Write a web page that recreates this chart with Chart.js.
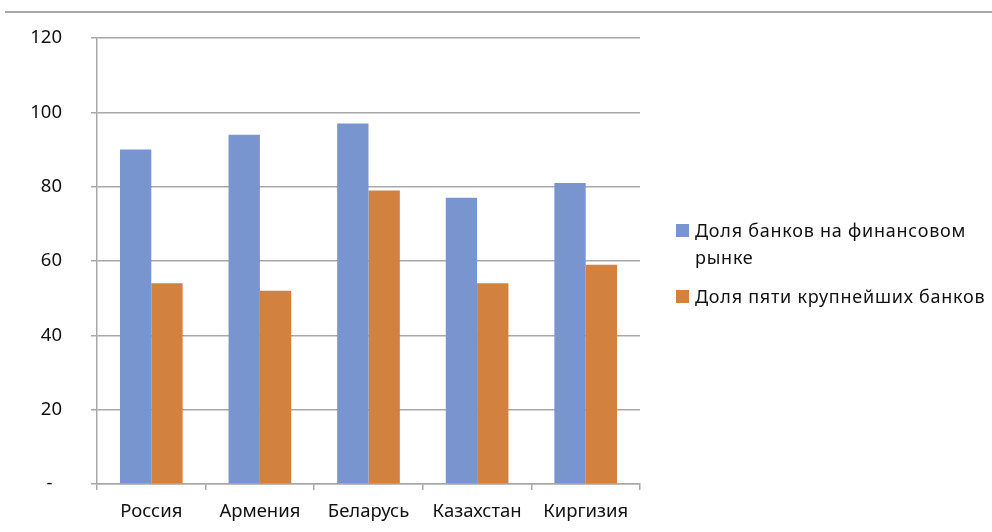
<!DOCTYPE html>
<html><head><meta charset="utf-8">
<script src="https://cdn.jsdelivr.net/npm/chart.js@4"></script>
<style>
html,body{margin:0;padding:0;background:#fff;}
#wrap{position:relative;width:992px;height:532px;}
#topline{position:absolute;left:5px;right:0;top:11px;height:0;border-top:2px solid #a8a8a8;}
#legend{position:absolute;left:676px;top:217px;font-family:"Noto Sans",sans-serif;font-size:18px;letter-spacing:0.75px;color:#111;line-height:27px;}
.item{display:flex;align-items:flex-start;margin-bottom:12px;}
.sw{width:13px;height:13px;margin-top:7px;margin-right:6px;flex:none;}
</style></head>
<body><div id="wrap"><div id="topline"></div><canvas id="c" width="992" height="532"></canvas><div id="legend"></div></div>
<script>
const categories = ["Россия","Армения","Беларусь","Казахстан","Киргизия"];
const seriesNames = ["Доля банков на финансовом рынке","Доля пяти крупнейших банков"];
const shareOfBanks = [90,94,97,77,81];
const topFiveShare = [54,52,79,54,59];
const yTicks = [0,20,40,60,80,100,120];
const colors = ["#7895d0","#d2813f"];

const chart = new Chart(document.getElementById('c'),{
  type:'bar',
  data:{labels:categories,datasets:[
    {label:seriesNames[0],data:shareOfBanks,backgroundColor:colors[0]},
    {label:seriesNames[1],data:topFiveShare,backgroundColor:colors[1]}
  ]},
  options:{
    responsive:false,animation:false,
    layout:{padding:{top:38,left:0,right:352,bottom:0}},
    plugins:{legend:{display:false},tooltip:{enabled:false}},
    datasets:{bar:{barPercentage:1,categoryPercentage:0.577}},
    scales:{
      x:{
        afterFit:s=>{s.height=48;s.paddingLeft=0;s.paddingRight=0;},
        grid:{offset:true,drawOnChartArea:false,drawTicks:true,tickLength:6,color:'#a8a8a8',lineWidth:1.5},
        border:{color:'#a8a8a8',width:1.5},
        ticks:{padding:11,color:'#111',font:{family:'"Noto Sans", sans-serif',size:18.5}}
      },
      y:{
        min:0,max:120,
        afterFit:s=>{s.width=97;s.paddingTop=0;s.paddingBottom=0;},
        afterBuildTicks:s=>{s.ticks=yTicks.map(v=>({value:v}));},
        grid:{color:'#a8a8a8',lineWidth:1.5,tickLength:6},
        border:{color:'#a8a8a8',width:1.5},
        ticks:{padding:29,color:'#111',font:{family:'"Noto Sans", sans-serif',size:18.5},
          callback:v=>v===0?'-  ':String(v)}
      }
    }
  }
});
const lg=document.getElementById('legend');
const lines=[["Доля банков на финансовом","рынке"],["Доля пяти крупнейших банков"]];
chart.data.datasets.forEach((d,i)=>{
  const it=document.createElement('div');it.className='item';
  const sw=document.createElement('div');sw.className='sw';sw.style.background=d.backgroundColor;
  const tx=document.createElement('div');tx.innerHTML=lines[i].join('<br>');
  it.appendChild(sw);it.appendChild(tx);lg.appendChild(it);
});
</script></body></html>
